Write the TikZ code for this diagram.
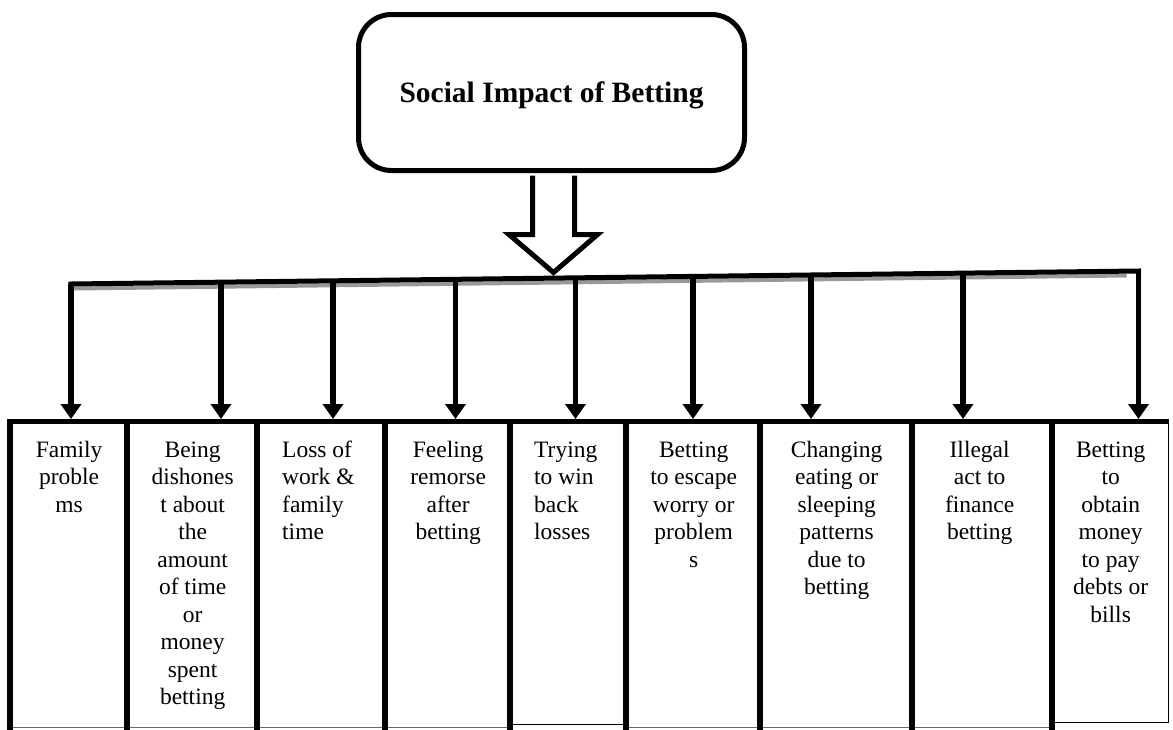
\documentclass[tikz,border=0pt]{standalone}
\usepackage{fontspec}
\setmainfont{Liberation Serif}
\usetikzlibrary{arrows.meta,calc}
\begin{document}
\begin{tikzpicture}[x=1pt,y=-1pt,
  topbox/.style={draw, line width=5pt, rounded corners=33pt, minimum width=386pt,
    minimum height=156pt, inner sep=0pt, font=\fontsize{29.5}{34}\selectfont\bfseries,
    text height=20pt, text depth=0pt},
  cell/.style={draw=black!60, line width=1.3pt, anchor=north west, inner sep=0pt},
  cellk/.style={cell, draw=black},
  edgeline/.style={line width=5.5pt},
  txt/.style={font=\fontsize{23.5}{27.5}\selectfont, inner sep=0pt, align=center, anchor=north},
  txtl/.style={txt, align=left, anchor=north west},
  arr/.style={line width=5.5pt, -{Triangle[width=20pt,length=15pt]}, shorten >=2.5pt},
  blk/.style={line width=5pt, fill=white, miter limit=10},
  barline/.style={line width=5pt, line cap=rect},
  barshadow/.style={line width=4pt, black!40}
]
\useasboundingbox (0,0) rectangle (1173,729);

% title box
\node[topbox] (top) at (551.5,92.5) {Social Impact of Betting};

% block arrow
\draw[blk] ($(top.south)+(-19,2.5)$) -- ($(top.south)+(-19,61.5)$)
  -- ($(top.south)+(-42.5,61.5)$) -- ($(top.south)+(2,99.5)$)
  -- ($(top.south)+(46,61.5)$) -- ($(top.south)+(23,61.5)$)
  -- ($(top.south)+(23,2.5)$);

% cells
\node[cell,  minimum width=117pt, minimum height=305.5pt] (b1) at (10,421.5) {};
\node[cell,  minimum width=130pt, minimum height=305.5pt] (b2) at (127,421.5) {};
\node[cell,  minimum width=128pt, minimum height=305.5pt] (b3) at (257,421.5) {};
\node[cell,  minimum width=125pt, minimum height=305.5pt] (b4) at (385,421.5) {};
\node[cellk, minimum width=116pt, minimum height=302.5pt] (b5) at (510,421.5) {};
\node[cell,  minimum width=134pt, minimum height=305.5pt] (b6) at (626,421.5) {};
\node[cell,  minimum width=152pt, minimum height=305.5pt] (b7) at (760,421.5) {};
\node[cell,  minimum width=140pt, minimum height=305.5pt] (b8) at (912,421.5) {};
\node[cellk, minimum width=116pt, minimum height=300.5pt] (b9) at (1052,421.5) {};

\foreach \b in {b1,b2,b3,b4,b5,b6,b7,b8,b9}{
  \draw[edgeline] ([yshift=-8pt]\b.south west |- 0,729) -- (\b.north west) -- (\b.north east);
}

% texts
\node[txt]  (t1) at ($(b1.north)+(0,16.25)$) {\strut Family\\proble\\ms};
\node[txt]  (t2) at ($(b2.north)+(0,16.25)$) {\strut Being\\dishones\\t about\\the\\amount\\of time\\or\\money\\spent\\betting};
\node[txtl] (t3) at ($(b3.north west)+(25,16.25)$) {\strut Loss of\\work \&\\family\\time};
\node[txt]  (t4) at ($(b4.north)+(0,16.25)$) {\strut Feeling\\remorse\\after\\betting};
\node[txtl] (t5) at ($(b5.north west)+(24,16.25)$) {\strut Trying\\to win\\back\\losses};
\node[txt]  (t6) at ($(b6.north)+(0,16.25)$) {\strut Betting\\to escape\\worry or\\problem\\s};
\node[txt]  (t7) at ($(b7.north)+(0,16.25)$) {\strut Changing\\eating or\\sleeping\\patterns\\due to\\betting};
\node[txt]  (t8) at ($(b8.north)+(-3,16.25)$) {\strut Illegal\\act to\\finance\\betting};
\node[txt]  (t9) at ($(b9.north)+(0,16.25)$) {\strut Betting\\to\\obtain\\money\\to pay\\debts or\\bills};

% distribution bar
\coordinate (c1) at (71,284);
\coordinate (c2) at (221,282.2);
\coordinate (c3) at (333,280.8);
\coordinate (c4) at (455.5,279.3);
\coordinate (c5) at (575.5,277.9);
\coordinate (c6) at (693,276.4);
\coordinate (c7) at (811,275);
\coordinate (c8) at (963,273.1);
\coordinate (c9) at (1138.5,271);

\draw[barshadow] ($(c1)+(3,4.5)$) -- ($(c9)+(-12,4.5)$);
\foreach \i in {1,...,9}{
  \draw[arr] (c\i) -- (c\i |- b\i.north);
}
\draw[barline] (c1) -- (c9);
\end{tikzpicture}
\end{document}
